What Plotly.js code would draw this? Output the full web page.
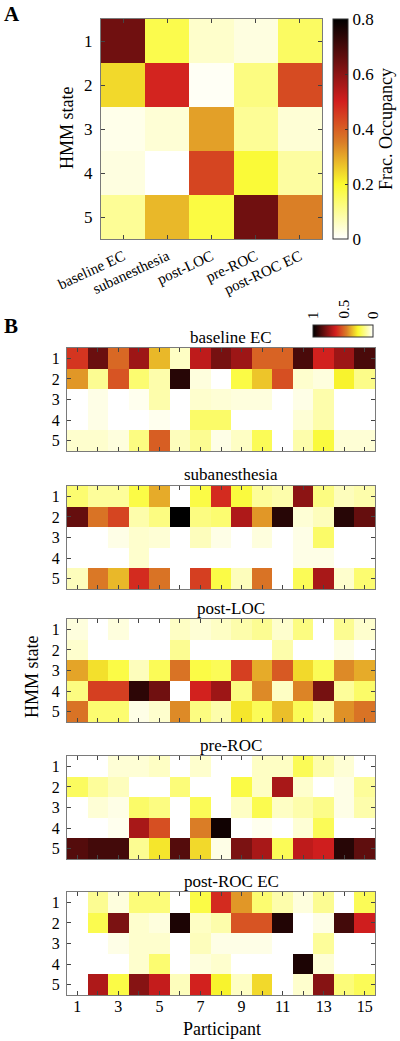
<!DOCTYPE html>
<html>
<head>
<meta charset="utf-8">
<script src="https://cdn.plot.ly/plotly-3.0.1.min.js"></script>
<style>html,body{margin:0;padding:0;background:#fff;}#chart{width:400px;height:1041px;}</style>
</head>
<body>
<div id="chart"></div>
<script>
// ---------- data ----------
const conditions = ['baseline EC', 'subanesthesia', 'post-LOC', 'pre-ROC', 'post-ROC EC'];
const states = [1, 2, 3, 4, 5];
const participants = [1,2,3,4,5,6,7,8,9,10,11,12,13,14,15];
const participantTickText = ['1','','3','','5','','7','','9','','11','','13','','15'];
const colorbarATicks = [0, 0.2, 0.4, 0.6, 0.8];
const colorbarBLabels = ['1', '0.5', '0'];

// Panel A: mean fractional occupancy (rows = HMM state, cols = condition)
const meanOccupancy = [
  [0.64, 0.17, 0.05, 0.03, 0.15],
  [0.24, 0.49, 0.01, 0.12, 0.43],
  [0.02, 0.04, 0.31, 0.10, 0.04],
  [0.03, 0.00, 0.44, 0.19, 0.09],
  [0.10, 0.28, 0.18, 0.64, 0.35]
];

// Panel B: per-participant fractional occupancy (rows = HMM state, cols = participant)
const baselineEC = [
  [0.58, 0.81, 0.48, 0.72, 0.35, 0.07, 0.66, 0.79, 0.72, 0.49, 0.49, 0.87, 0.62, 0.72, 0.87],
  [0.40, 0.13, 0.52, 0.17, 0.10, 0.93, 0.04, 0.00, 0.22, 0.33, 0.53, 0.06, 0.04, 0.26, 0.14],
  [0.00, 0.03, 0.00, 0.02, 0.10, 0.00, 0.06, 0.05, 0.04, 0.04, 0.00, 0.03, 0.10, 0.00, 0.00],
  [0.00, 0.03, 0.00, 0.00, 0.02, 0.00, 0.18, 0.18, 0.00, 0.00, 0.00, 0.05, 0.10, 0.00, 0.00],
  [0.06, 0.06, 0.04, 0.15, 0.50, 0.08, 0.13, 0.03, 0.07, 0.20, 0.00, 0.10, 0.23, 0.05, 0.05]
];
const subanesthesia = [
  [0.17, 0.12, 0.12, 0.22, 0.37, 0.00, 0.22, 0.60, 0.23, 0.12, 0.10, 0.75, 0.15, 0.08, 0.10],
  [0.82, 0.46, 0.55, 0.10, 0.15, 1.00, 0.15, 0.17, 0.69, 0.40, 0.93, 0.05, 0.08, 0.93, 0.82],
  [0.00, 0.00, 0.03, 0.06, 0.05, 0.00, 0.08, 0.03, 0.00, 0.04, 0.00, 0.03, 0.18, 0.00, 0.00],
  [0.00, 0.00, 0.00, 0.06, 0.00, 0.00, 0.00, 0.00, 0.00, 0.00, 0.00, 0.03, 0.03, 0.00, 0.00],
  [0.08, 0.45, 0.35, 0.60, 0.46, 0.00, 0.56, 0.22, 0.08, 0.46, 0.00, 0.20, 0.70, 0.06, 0.17]
];
const postLOC = [
  [0.04, 0.00, 0.04, 0.00, 0.00, 0.07, 0.05, 0.07, 0.10, 0.13, 0.06, 0.15, 0.00, 0.13, 0.06],
  [0.06, 0.00, 0.00, 0.00, 0.00, 0.13, 0.00, 0.00, 0.00, 0.00, 0.10, 0.00, 0.00, 0.03, 0.00],
  [0.38, 0.29, 0.22, 0.08, 0.20, 0.46, 0.22, 0.20, 0.56, 0.37, 0.51, 0.30, 0.20, 0.42, 0.37],
  [0.15, 0.56, 0.56, 0.92, 0.80, 0.00, 0.62, 0.72, 0.15, 0.42, 0.07, 0.43, 0.79, 0.12, 0.18],
  [0.46, 0.17, 0.17, 0.03, 0.06, 0.42, 0.15, 0.10, 0.28, 0.20, 0.34, 0.20, 0.12, 0.41, 0.46]
];
const preROC = [
  [0.00, 0.00, 0.05, 0.05, 0.07, 0.00, 0.06, 0.00, 0.00, 0.07, 0.07, 0.20, 0.10, 0.05, 0.00],
  [0.19, 0.12, 0.08, 0.00, 0.00, 0.16, 0.00, 0.00, 0.22, 0.07, 0.70, 0.06, 0.00, 0.03, 0.12],
  [0.00, 0.05, 0.03, 0.18, 0.15, 0.00, 0.20, 0.00, 0.07, 0.21, 0.07, 0.10, 0.14, 0.03, 0.10],
  [0.00, 0.00, 0.02, 0.70, 0.53, 0.00, 0.44, 0.97, 0.00, 0.02, 0.00, 0.05, 0.20, 0.00, 0.00],
  [0.85, 0.88, 0.88, 0.13, 0.28, 0.85, 0.30, 0.03, 0.78, 0.70, 0.20, 0.66, 0.63, 0.93, 0.83]
];
const postROCEC = [
  [0.00, 0.13, 0.04, 0.16, 0.16, 0.00, 0.22, 0.60, 0.40, 0.17, 0.10, 0.04, 0.13, 0.00, 0.20],
  [0.00, 0.21, 0.78, 0.06, 0.04, 0.95, 0.07, 0.10, 0.52, 0.52, 0.94, 0.00, 0.03, 0.88, 0.63],
  [0.00, 0.00, 0.03, 0.06, 0.06, 0.00, 0.08, 0.03, 0.03, 0.03, 0.00, 0.00, 0.12, 0.00, 0.00],
  [0.00, 0.00, 0.00, 0.06, 0.17, 0.00, 0.04, 0.06, 0.00, 0.00, 0.00, 0.95, 0.05, 0.00, 0.00],
  [0.00, 0.69, 0.22, 0.76, 0.65, 0.08, 0.62, 0.26, 0.07, 0.30, 0.00, 0.06, 0.76, 0.16, 0.20]
];
const panelB = [baselineEC, subanesthesia, postLOC, preROC, postROCEC];

// ---------- styling ----------
const W = 400, H = 1041;
const px = p => p / W;
const py = p => 1 - p / H;
const FONT = 'Liberation Serif, Times New Roman, serif';
const hotR = [[0, 'rgb(255,255,255)'], [0.25, 'rgb(250,250,45)'], [0.44, 'rgb(218,125,38)'], [0.625, 'rgb(210,30,30)'], [1, 'rgb(0,0,0)']];
const hotRrev = hotR.map(s => [1 - s[0], s[1]]).reverse();
const LINE = '#7a7a7a', TICK = '#444';

function label(text, x, y, size, extra) {
  return Object.assign({text: text, x: px(x), y: py(y), xref: 'paper', yref: 'paper',
    xanchor: 'center', yanchor: 'middle', showarrow: false,
    font: {family: FONT, size: size, color: '#000'}}, extra || {});
}

const traces = [];
traces.push({
  type: 'heatmap', z: meanOccupancy, x: conditions, y: states,
  xaxis: 'x', yaxis: 'y', colorscale: hotR, zmin: 0, zmax: 0.8,
  hoverinfo: 'skip',
  colorbar: {
    x: px(333), xanchor: 'left', xpad: 0, y: py(19), yanchor: 'top', ypad: 0,
    len: 220 / H, lenmode: 'fraction', thickness: 15,
    outlinecolor: '#333', outlinewidth: 1,
    tickvals: colorbarATicks, ticktext: colorbarATicks.map(String),
    ticks: 'inside', ticklen: 3, tickcolor: '#333',
    tickfont: {family: FONT, size: 17, color: '#000'},
    title: {text: 'Frac. Occupancy', side: 'right', font: {family: FONT, size: 18, color: '#000'}}
  }
});

const panelTops = [348, 486, 619, 756, 892];
const panelH = 103;

panelB.forEach((z, i) => {
  traces.push({
    type: 'heatmap', z: z, x: participants, y: states,
    xaxis: 'x' + (i + 2), yaxis: 'y' + (i + 2),
    colorscale: hotR, zmin: 0, zmax: 1, showscale: false, hoverinfo: 'skip'
  });
});

// colour key for panel B (drawn 1 -> 0, left to right)
traces.push({
  type: 'scatter', mode: 'markers', x: [null], y: [null], xaxis: 'x2', yaxis: 'y2',
  hoverinfo: 'skip', showlegend: false,
  marker: {
    color: [0], cmin: 0, cmax: 1, colorscale: hotRrev, showscale: true,
    colorbar: {
      orientation: 'h', x: px(313), xanchor: 'left', xpad: 0,
      y: py(325), yanchor: 'top', ypad: 0,
      len: 60 / W, lenmode: 'fraction', thickness: 12,
      outlinecolor: '#333', outlinewidth: 1,
      showticklabels: false, ticks: ''
    }
  }
});

const layout = {
  width: W, height: H, margin: {l: 0, r: 0, t: 0, b: 0},
  paper_bgcolor: '#fff', plot_bgcolor: '#fff', showlegend: false,
  font: {family: FONT, color: '#000'},
  xaxis: {
    domain: [px(101), px(322)], anchor: 'y', type: 'category',
    tickangle: -25, ticks: 'inside', ticklen: 4, tickcolor: TICK,
    showline: true, linecolor: LINE, mirror: 'ticks', showgrid: false, zeroline: false,
    tickfont: {family: FONT, size: 15, color: '#000'}, ticklabelstandoff: 2, fixedrange: true
  },
  yaxis: {
    domain: [py(239), py(19)], anchor: 'x', range: [5.5, 0.5],
    tickvals: states, ticktext: states.map(String),
    ticks: 'inside', ticklen: 4, tickcolor: TICK,
    showline: true, linecolor: LINE, mirror: 'ticks', showgrid: false, zeroline: false,
    tickfont: {family: FONT, size: 17, color: '#000'}, ticklabelstandoff: 4, fixedrange: true
  },
  annotations: [
    label('<b>A</b>', 12, 14, 21),
    label('<b>B</b>', 11, 326, 21),
    label('HMM state', 67, 128, 18, {textangle: -90}),
    label('HMM state', 32, 677, 18, {textangle: -90}),
    label('Participant', 222, 1029, 18)
  ]
};

// colour key labels
const keyX = [313, 343, 373];
colorbarBLabels.forEach((t, k) => {
  layout.annotations.push(label(t, keyX[k], 321, 15, {textangle: -90, yanchor: 'bottom'}));
});

panelTops.forEach((top, i) => {
  const n = i + 2;
  layout['xaxis' + n] = {
    domain: [px(67), px(375)], anchor: 'y' + n, range: [0.5, 15.5],
    tickvals: participants, ticktext: participantTickText,
    showticklabels: i === 4,
    ticks: 'inside', ticklen: 4, tickcolor: TICK,
    showline: true, linecolor: LINE, mirror: 'ticks', showgrid: false, zeroline: false,
    tickfont: {family: FONT, size: 16, color: '#000'}, ticklabelstandoff: -3, fixedrange: true
  };
  layout['yaxis' + n] = {
    domain: [py(top + panelH), py(top)], anchor: 'x' + n, range: [5.5, 0.5],
    tickvals: states, ticktext: states.map(String),
    ticks: 'inside', ticklen: 4, tickcolor: TICK,
    showline: true, linecolor: LINE, mirror: 'ticks', showgrid: false, zeroline: false,
    tickfont: {family: FONT, size: 16, color: '#000'}, ticklabelstandoff: 3, fixedrange: true
  };
  layout.annotations.push(label(conditions[i], 231, top - 11, 17));
});

Plotly.newPlot('chart', traces, layout, {displayModeBar: false, staticPlot: true});
</script>
</body>
</html>
